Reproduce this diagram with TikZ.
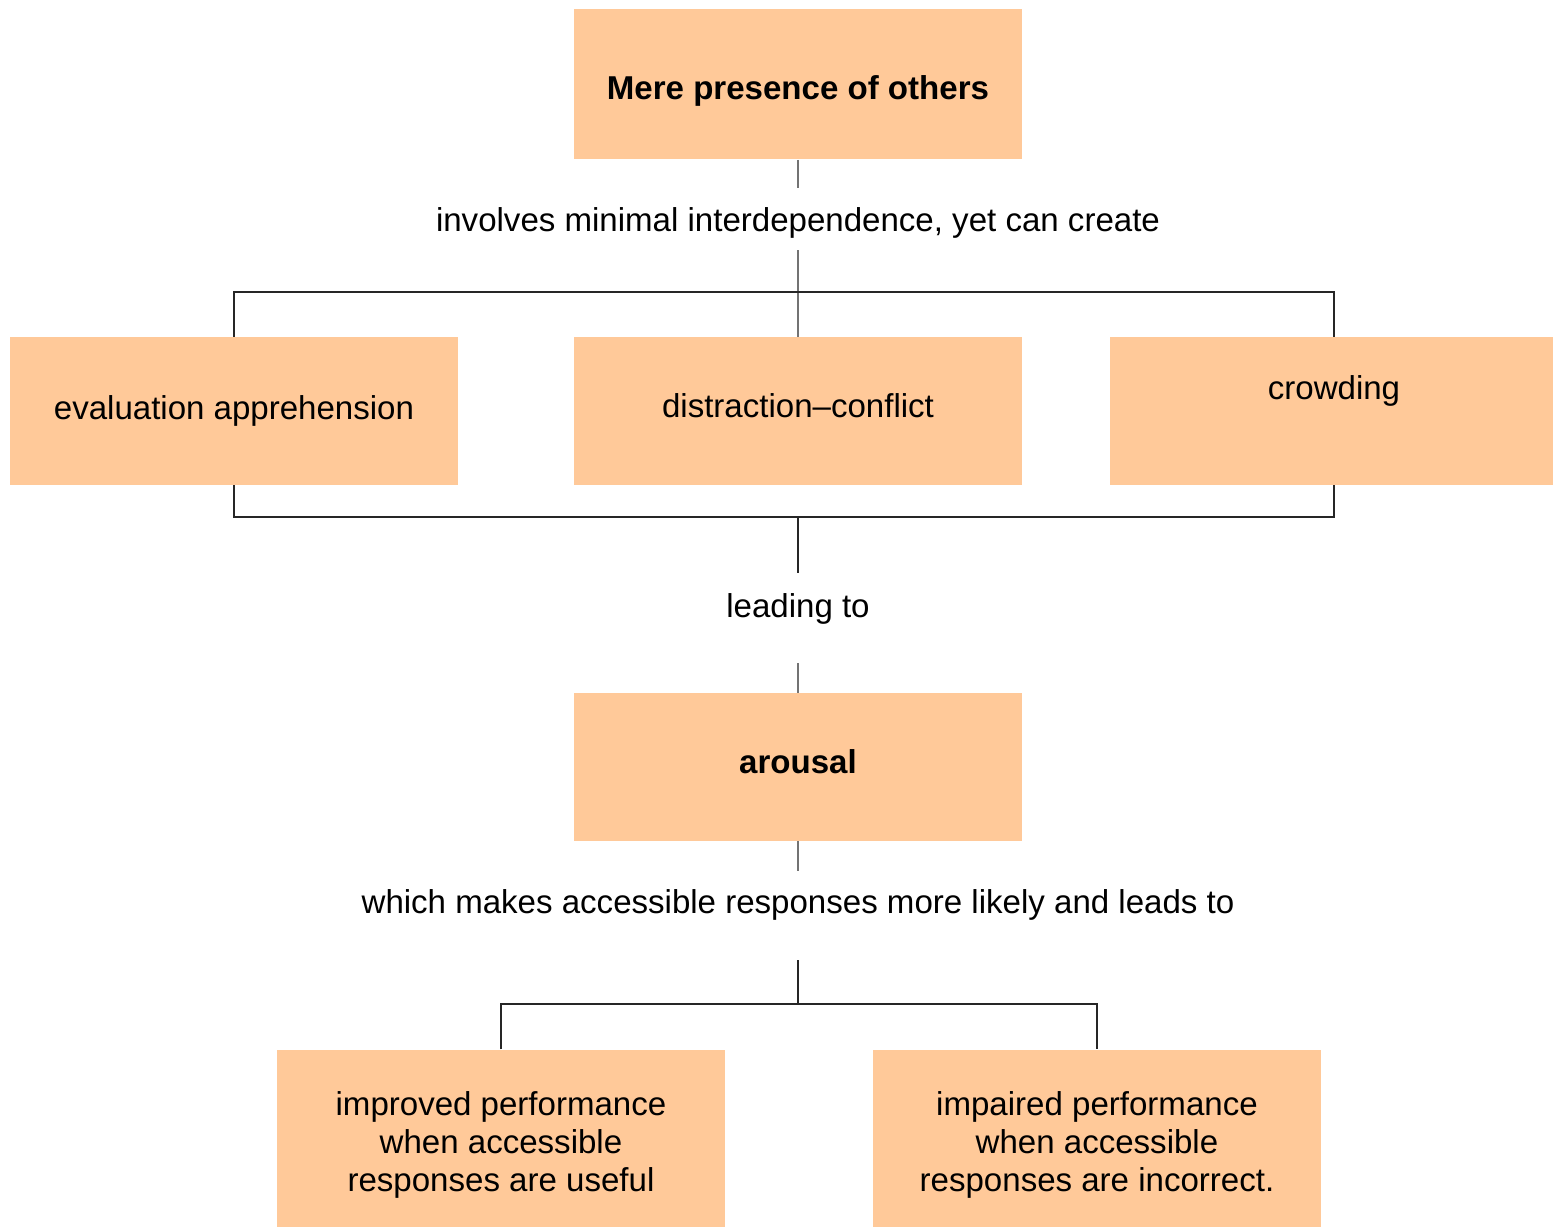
\documentclass[tikz,border=0pt]{standalone}
\usepackage{fontspec}
\setmainfont{Liberation Sans}
\usepackage{tikz}
\usetikzlibrary{positioning}
\definecolor{peach}{HTML}{FFC999}
\tikzset{every node/.style={font=\fontsize{9.4}{10.8}\selectfont},
  box/.style={fill=peach, inner sep=0pt, minimum width=4.47cm,
    minimum height=1.47cm, align=center},
  tallbox/.style={box, minimum height=1.90cm},
  link/.style={draw=black!85, line width=0.6pt},
  stub/.style={draw=black!55, line width=0.6pt}}

\begin{document}
\begin{tikzpicture}[x=0.01cm, y=-0.01cm]
      \useasboundingbox (0,0) rectangle (1553,1226);
      \clip (0,0) rectangle (1553,1226);
      % boxes
      \node[box, minimum height=1.50cm, text height=0.38cm] (mere) at (798,84) {\textbf{Mere presence of others}};
      \node[box] (eval) at (234,411) {evaluation apprehension};
      \node[box, text depth=0.1cm] (dist) at (798,411) {distraction--conflict};
      \node[box, text depth=0.47cm] (crowd) at (1334,411) {crowding};
      \node[box, text depth=0.1cm] (arousal) at (798,767) {\textbf{arousal}};
      \node[tallbox] (better) at (501,1145) {improved performance\\when accessible\\responses are useful};
      \node[tallbox] (worse) at (1097,1145) {impaired performance\\when accessible\\responses are incorrect.};

      % texts on the links
      \node (involves) at (798,223) {involves minimal interdependence, yet can create};
      \node (leading) at (798,609) {leading to};
      \node (which) at (798,905) {which makes accessible responses more likely and leads to};

      \coordinate (inv-a) at (798,188);
      \coordinate (inv-b) at (798,250);
      \coordinate (join) at (798,517);
      \coordinate (lead-a) at (798,573);
      \coordinate (lead-b) at (798,663);
      \coordinate (which-a) at (798,871);
      \coordinate (which-b) at (798,960);
      \coordinate (split) at (798,1005);

      % links
      \draw[stub] (mere.south) -- (inv-a);
      \draw[stub] (inv-b) -- (dist.north);
      \draw[link] (eval.north) -- ++(0,-45) -| (crowd.north);
      \draw[link] (eval.south) -- ++(0,32) -| (crowd.south);
      \draw[link] (join) -- (lead-a);
      \draw[stub] (lead-b) -- (arousal.north);
      \draw[stub] (arousal.south) -- (which-a);
      \draw[link] (which-b) -- (split);
      \draw[link] (better.north) -- ++(0,-45) -| (worse.north);
    \end{tikzpicture}
\end{document}
